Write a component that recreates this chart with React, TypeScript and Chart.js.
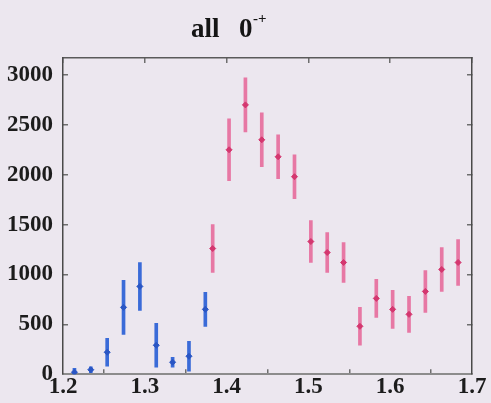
import { useEffect, useRef } from "react";
import { Chart, registerables } from "chart.js";

Chart.register(...registerables);

// Mass bins (GeV) and fitted event counts with statistical errors
const blueMass = [1.214, 1.234, 1.254, 1.274, 1.294, 1.314, 1.334, 1.354, 1.374];
const blueEvents = [20, 45, 220, 670, 880, 290, 120, 180, 650];
const blueErrors = [40, 30, 140, 270, 240, 220, 50, 150, 170];

const redMass = [
  1.383, 1.403, 1.423, 1.443, 1.463, 1.483, 1.503, 1.523, 1.543, 1.563, 1.583,
  1.603, 1.623, 1.643, 1.663, 1.683,
];
const redEvents = [
  1260, 2250, 2700, 2350, 2180, 1980, 1330, 1220, 1120, 480, 760, 650, 600, 830,
  1050, 1120,
];
const redErrors = [
  240, 310, 270, 270, 220, 220, 210, 200, 200, 190, 190, 190, 180, 210, 220, 230,
];

const xTickValues = [1.2, 1.3, 1.4, 1.5, 1.6, 1.7];
const yTickValues = [0, 500, 1000, 1500, 2000, 2500, 3000];

const titleMain = "all";
const titleState = "0";
const titleSup = "-+";

const X_MIN = 1.2;
const X_MAX = 1.7;
const Y_MIN = 0;
const Y_MAX = 3170;

const serif = '"Liberation Serif", "DejaVu Serif", serif';

const points = (xs: number[], ys: number[]) => xs.map((x, i) => ({ x, y: ys[i] }));
const ranges = (xs: number[], ys: number[], es: number[]) =>
  xs.map((x, i) => ({ x, y: [ys[i] - es[i], ys[i] + es[i]] }));

const backgroundPlugin = {
  id: "pageBackground",
  beforeDraw(chart: any) {
    const { ctx, width, height } = chart;
    ctx.save();
    ctx.fillStyle = "#ece7ef";
    ctx.fillRect(0, 0, width, height);
    ctx.restore();
  },
};

const titlePlugin = {
  id: "stateTitle",
  afterDraw(chart: any) {
    const ctx = chart.ctx;
    ctx.save();
    ctx.fillStyle = "#151515";
    ctx.textBaseline = "alphabetic";
    ctx.textAlign = "left";
    ctx.font = `bold 27px ${serif}`;
    ctx.fillText(titleMain, 191, 37);
    ctx.fillText(titleState, 239, 37);
    ctx.font = `bold 15px ${serif}`;
    ctx.fillText(titleSup, 253, 23);
    ctx.restore();
  },
};

const tickFont = { family: serif, size: 23, weight: "bold" as const };

const gridOpts = {
  drawOnChartArea: false,
  drawTicks: true,
  tickLength: -5,
  color: "#6e6e6e",
  lineWidth: 1.5,
};

export default function App() {
  const canvasRef = useRef<HTMLCanvasElement | null>(null);

  useEffect(() => {
    document.body.style.margin = "0";
    const canvas = canvasRef.current;
    if (!canvas) return;

    const chart = new Chart(canvas, {
      type: "scatter",
      data: {
        datasets: [
          {
            type: "scatter",
            data: points(blueMass, blueEvents),
            xAxisID: "x",
            yAxisID: "y",
            pointStyle: "rectRot",
            pointRadius: 3,
            backgroundColor: "#2a56c4",
            borderColor: "#2a56c4",
            borderWidth: 1,
            order: 0,
          },
          {
            type: "scatter",
            data: points(redMass, redEvents),
            xAxisID: "x",
            yAxisID: "y",
            pointStyle: "rectRot",
            pointRadius: 3,
            backgroundColor: "#d4376f",
            borderColor: "#d4376f",
            borderWidth: 1,
            order: 0,
          },
          {
            type: "bar",
            data: ranges(blueMass, blueEvents, blueErrors) as any,
            xAxisID: "x",
            yAxisID: "y",
            barThickness: 3,
            grouped: false,
            backgroundColor: "#3a6bd8",
            borderWidth: 0,
            order: 1,
          },
          {
            type: "bar",
            data: ranges(redMass, redEvents, redErrors) as any,
            xAxisID: "x",
            yAxisID: "y",
            barThickness: 3,
            grouped: false,
            backgroundColor: "rgba(230,100,150,0.85)",
            borderWidth: 0,
            order: 1,
          },
        ] as any,
      },
      options: {
        responsive: false,
        animation: false,
        layout: { padding: 0 },
        plugins: {
          legend: { display: false },
          title: { display: false },
          tooltip: { enabled: false },
        },
        scales: {
          x: {
            type: "linear",
            position: "bottom",
            min: X_MIN,
            max: X_MAX,
            offset: false,
            afterBuildTicks: (s: any) => {
              s.ticks = xTickValues.map((value) => ({ value }));
            },
            afterFit: (s: any) => {
              s.height = 28;
            },
            grid: gridOpts,
            border: { display: true, color: "#8c8c8c", width: 2 },
            ticks: {
              color: "#1c1c1c",
              font: tickFont,
              padding: 4,
              maxRotation: 0,
              autoSkip: false,
              callback: (v: any) => Number(v).toFixed(1),
            },
          },
          x2: {
            type: "linear",
            position: "top",
            min: X_MIN,
            max: X_MAX,
            offset: false,
            afterBuildTicks: (s: any) => {
              s.ticks = xTickValues.map((value) => ({ value }));
            },
            afterFit: (s: any) => {
              s.height = 58;
            },
            grid: gridOpts,
            border: { display: true, color: "#5a5a5a", width: 1.5 },
            ticks: { display: false },
          },
          y: {
            type: "linear",
            position: "left",
            min: Y_MIN,
            max: Y_MAX,
            afterBuildTicks: (s: any) => {
              s.ticks = yTickValues.map((value) => ({ value }));
            },
            afterFit: (s: any) => {
              s.width = 63;
            },
            grid: gridOpts,
            border: { display: true, color: "#4a4a4a", width: 1.5 },
            ticks: {
              color: "#1c1c1c",
              font: tickFont,
              padding: 15,
              autoSkip: false,
              callback: (v: any) => String(v),
            },
          },
          y2: {
            type: "linear",
            position: "right",
            min: Y_MIN,
            max: Y_MAX,
            afterBuildTicks: (s: any) => {
              s.ticks = yTickValues.map((value) => ({ value }));
            },
            afterFit: (s: any) => {
              s.width = 19;
            },
            grid: gridOpts,
            border: { display: true, color: "#4a4a4a", width: 1.5 },
            ticks: { display: false },
          },
        },
      } as any,
      plugins: [backgroundPlugin, titlePlugin],
    });

    return () => {
      chart.destroy();
    };
  }, []);

  return (
    <canvas
      ref={canvasRef}
      width={491}
      height={403}
      style={{ display: "block", width: 491, height: 403 }}
    />
  );
}
